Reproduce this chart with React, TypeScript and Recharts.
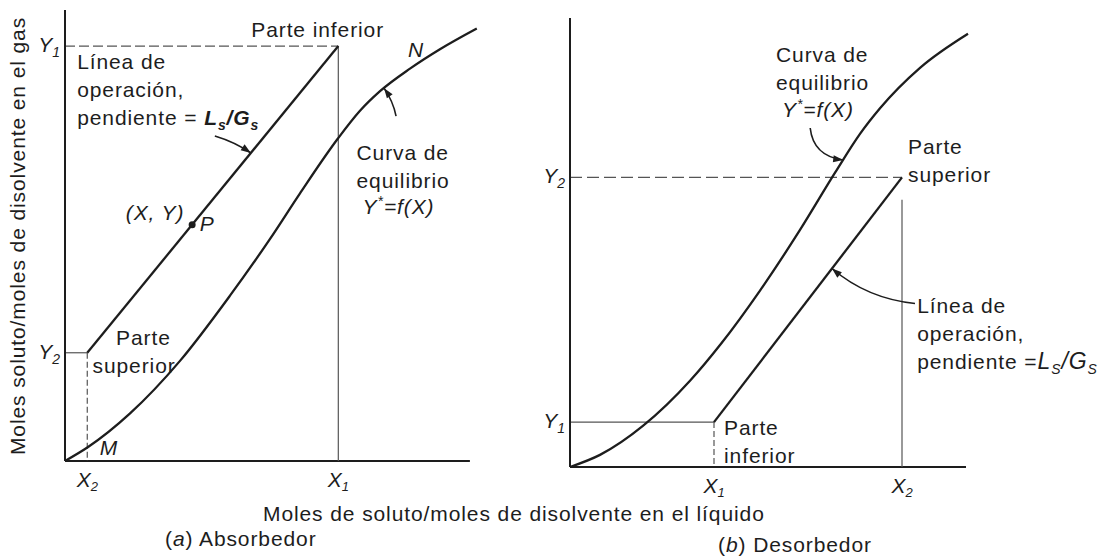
import React from "react";
import { LineChart, Line, XAxis, YAxis, ReferenceLine, ReferenceDot } from "recharts";

const INK = "#1d1d1d";
const GUIDE = "#555555";
const SANS = '"Liberation Sans", Arial, Helvetica, sans-serif';
const SIZE = 21;
const TRACK = 0.9;
const LEAD = 28;

// (a) absorbedor: curva de equilibrio Y* = f(X)
const absEqX = [0, 0.57, 1.6, 2.84, 4.07, 5.06, 5.8, 6.74, 7.28, 7.78, 8.52, 9.26, 10.17];
const absEqY = [0, 0.31, 1.05, 2.22, 3.66, 4.92, 5.93, 7.15, 7.76, 8.2, 8.7, 9.13, 9.59];
// línea de operación: parte superior (X2, Y2) -> parte inferior (X1, Y1)
const absOpX = [0.55, 6.75];
const absOpY = [2.4, 9.2];
const absXNames = [["X", "2"], ["X", "1"]];
const absYNames = [["Y", "2"], ["Y", "1"]];
const absPX = 3.14;

// (b) desorbedor
const desEqX = [0, 0.75, 1.83, 3.0, 3.78, 4.75, 5.75, 6.63, 7.25, 7.75, 8.75, 9.95];
const desEqY = [0, 0.27, 0.92, 1.92, 2.75, 3.93, 5.28, 6.56, 7.42, 7.99, 8.89, 9.65];
// parte inferior (X1, Y1) -> parte superior (X2, Y2)
const desOpX = [3.6, 8.3];
const desOpY = [1.0, 6.45];
const desXNames = [["X", "1"], ["X", "2"]];
const desYNames = [["Y", "1"], ["Y", "2"]];
const desGuideTop = 5.95;

const zip = (xs: number[], ys: number[]) => xs.map((x, i) => ({ x, y: ys[i] }));
const onLine = (xs: number[], ys: number[], x: number) =>
  ys[0] + ((x - xs[0]) * (ys[1] - ys[0])) / (xs[1] - xs[0]);
const onCurve = (xs: number[], ys: number[], x: number) => {
  const i = Math.max(1, xs.findIndex((v) => v >= x));
  return onLine([xs[i - 1], xs[i]], [ys[i - 1], ys[i]], x);
};

const pickName = (values: number[], names: string[][], v: number) => {
  const i = values.findIndex((t) => Math.abs(t - v) < 1e-6);
  return names[i] ?? ["", ""];
};

const XTick = (props: any) => {
  const { x, y, payload, values, names } = props;
  const [l, s] = pickName(values, names, payload.value);
  return (
    <text x={x} y={y + 18} textAnchor="middle" fill={INK} fontFamily={SANS} fontStyle="italic" fontSize={SIZE}>
      {l}
      <tspan dy={4} fontSize={13}>{s}</tspan>
    </text>
  );
};

const YTick = (props: any) => {
  const { x, y, payload, values, names } = props;
  const [l, s] = pickName(values, names, payload.value);
  return (
    <text x={x + 3} y={y + 6} textAnchor="end" fill={INK} fontFamily={SANS} fontStyle="italic" fontSize={SIZE}>
      {l}
      <tspan dy={5} fontSize={14}>{s}</tspan>
    </text>
  );
};

// text block anchored at a data point, one row per entry
const note = (key: string, x: number, y: number, lines: React.ReactNode[], italic = false) => (
  <ReferenceDot
    key={key}
    x={x}
    y={y}
    r={0}
    ifOverflow="visible"
    shape={(p: any) => (
      <text
        fill={INK}
        fontFamily={SANS}
        fontSize={SIZE}
        letterSpacing={TRACK}
        fontStyle={italic ? "italic" : "normal"}
      >
        {lines.map((ln, i) => (
          <tspan key={i} x={p.cx} y={p.cy + i * LEAD}>
            {ln}
          </tspan>
        ))}
      </text>
    )}
  />
);

// curved pointer ending on a curve; start and control are offsets from the tip
const pointer = (key: string, x: number, y: number, sx: number, sy: number, qx: number, qy: number) => (
  <ReferenceDot
    key={key}
    x={x}
    y={y}
    r={0}
    ifOverflow="visible"
    shape={(p: any) => {
      const { cx, cy } = p;
      const len = Math.hypot(qx, qy) || 1;
      const ux = -qx / len;
      const uy = -qy / len;
      const bx = cx - ux * 10;
      const by = cy - uy * 10;
      const nx = -uy * 3.5;
      const ny = ux * 3.5;
      return (
        <g>
          <path d={`M${cx + sx},${cy + sy} Q${cx + qx},${cy + qy} ${cx},${cy}`} fill="none" stroke={INK} strokeWidth={1.6} />
          <path d={`M${cx},${cy} L${bx + nx},${by + ny} L${bx - nx},${by - ny} Z`} fill={INK} />
        </g>
      );
    }}
  />
);

// L_s / G_s with subscripts
const slope = (s: string, big: boolean) => (
  <tspan fontStyle="italic" fontWeight={big ? "normal" : "bold"} fontSize={big ? 23 : SIZE}>
    L
    <tspan dy={5} fontSize={14}>{s}</tspan>
    <tspan dy={-5}>/G</tspan>
    <tspan dy={5} fontSize={14}>{s}</tspan>
  </tspan>
);

const yStar = (
  <tspan fontStyle="italic">
    Y<tspan dy={-8} fontSize={14}>*</tspan>
    <tspan dy={8}>=f(X)</tspan>
  </tspan>
);

const AbsorberPanel = () => {
  const eq = zip(absEqX, absEqY);
  const op = zip(absOpX, absOpY);
  const [x2, x1] = absOpX;
  const [y2, y1] = absOpY;
  const pY = onLine(absOpX, absOpY, absPX);
  const tipX = 4.59;
  const eqTipX = 7.88;
  return (
    <LineChart width={560} height={557} margin={{ top: 10, right: 82, bottom: 66, left: 5 }}>
      <XAxis
        type="number"
        dataKey="x"
        domain={[0, 10.2]}
        ticks={absOpX}
        axisLine={false}
        tickLine={false}
        tick={<XTick values={absOpX} names={absXNames} />}
      />
      <YAxis
        type="number"
        dataKey="y"
        domain={[0, 10]}
        ticks={absOpY}
        width={60}
        tickLine={false}
        axisLine={{ stroke: INK, strokeWidth: 2 }}
        tick={<YTick values={absOpY} names={absYNames} />}
      />
      <ReferenceLine segment={[{ x: 0, y: 0 }, { x: 10, y: 0 }]} stroke={INK} strokeWidth={2} ifOverflow="visible" />
      <ReferenceLine segment={[{ x: 0, y: y1 }, { x: x1, y: y1 }]} stroke={GUIDE} strokeWidth={1.2} strokeDasharray="10 4" />
      <ReferenceLine segment={[{ x: x1, y: y1 }, { x: x1, y: 0 }]} stroke={GUIDE} strokeWidth={1.2} />
      <ReferenceLine segment={[{ x: 0, y: y2 }, { x: x2, y: y2 }]} stroke={GUIDE} strokeWidth={1.2} />
      <ReferenceLine segment={[{ x: x2, y: y2 }, { x: x2, y: 0 }]} stroke={GUIDE} strokeWidth={1.2} strokeDasharray="6 3" />
      <Line data={eq} dataKey="y" type="monotone" stroke={INK} strokeWidth={2.3} dot={false} activeDot={false} isAnimationActive={false} />
      <Line data={op} dataKey="y" type="linear" stroke={INK} strokeWidth={2.3} dot={false} activeDot={false} isAnimationActive={false} />
      <ReferenceDot x={absPX} y={pY} r={3.5} fill={INK} stroke="none" />
      {note("inf", 4.6, 9.4, ["Parte inferior"])}
      {note("op", 0.3, 8.69, ["Línea de", "operación,", <>pendiente = {slope("s", false)}</>])}
      {pointer("opArrow", tipX, onLine(absOpX, absOpY, tipX), -36, -17, -16, -11)}
      {note("eq", 7.2, 6.67, ["Curva de", "equilibrio"])}
      {note("eqf", 7.35, 5.47, [yStar])}
      {pointer("eqArrow", eqTipX, onCurve(absEqX, absEqY, eqTipX), 12, 28, 9, 13)}
      {note("xy", 1.5, 5.34, ["(X, Y)"], true)}
      {note("p", 3.33, 5.1, ["P"], true)}
      {note("sup", 1.26, 2.57, ["Parte"])}
      {note("sup2", 0.68, 1.95, ["superior"])}
      {note("m", 0.86, 0.13, ["M"], true)}
      {note("n", 8.47, 8.96, ["N"], true)}
    </LineChart>
  );
};

const StripperPanel = () => {
  const eq = zip(desEqX, desEqY);
  const op = zip(desOpX, desOpY);
  const [x1, x2] = desOpX;
  const [y1, y2] = desOpY;
  const tipX = 6.55;
  const eqTipX = 6.83;
  return (
    <LineChart width={620} height={557} margin={{ top: 18, right: 146, bottom: 60, left: 10 }}>
      <XAxis
        type="number"
        dataKey="x"
        domain={[0, 10.1]}
        ticks={desOpX}
        axisLine={false}
        tickLine={false}
        tick={<XTick values={desOpX} names={desXNames} />}
      />
      <YAxis
        type="number"
        dataKey="y"
        domain={[0, 10]}
        ticks={desOpY}
        width={60}
        tickLine={false}
        axisLine={{ stroke: INK, strokeWidth: 2 }}
        tick={<YTick values={desOpY} names={desYNames} />}
      />
      <ReferenceLine segment={[{ x: 0, y: 0 }, { x: 9.9, y: 0 }]} stroke={INK} strokeWidth={2} ifOverflow="visible" />
      <ReferenceLine segment={[{ x: 0, y: y2 }, { x: x2, y: y2 }]} stroke={GUIDE} strokeWidth={1.2} strokeDasharray="12 5" />
      <ReferenceLine segment={[{ x: x2, y: desGuideTop }, { x: x2, y: 0 }]} stroke={GUIDE} strokeWidth={1.2} />
      <ReferenceLine segment={[{ x: 0, y: y1 }, { x: x1, y: y1 }]} stroke={GUIDE} strokeWidth={1.2} />
      <ReferenceLine segment={[{ x: x1, y: y1 }, { x: x1, y: 0 }]} stroke={GUIDE} strokeWidth={1.2} strokeDasharray="6 3" />
      <Line data={eq} dataKey="y" type="monotone" stroke={INK} strokeWidth={2.3} dot={false} activeDot={false} isAnimationActive={false} />
      <Line data={op} dataKey="y" type="linear" stroke={INK} strokeWidth={2.3} dot={false} activeDot={false} isAnimationActive={false} />
      {note("eq", 5.15, 9.02, ["Curva de", "equilibrio"])}
      {note("eqf", 5.3, 7.8, [yStar])}
      {pointer("eqArrow", eqTipX, onCurve(desEqX, desEqY, eqTipX), -33, -32, -30, -4)}
      {note("sup", 8.45, 6.97, ["Parte", "superior"])}
      {note("op", 8.68, 3.43, ["Línea de", "operación,", <>pendiente ={slope("S", true)}</>])}
      {pointer("opArrow", tipX, onLine(desOpX, desOpY, tipX), 83, 35, 35, 30)}
      {note("inf", 3.85, 0.71, ["Parte", "inferior"])}
    </LineChart>
  );
};

export default function App() {
  return (
    <div style={{ position: "absolute", left: 0, top: 0, width: 1120, height: 557, background: "#fff", overflow: "hidden" }}>
      <div style={{ position: "absolute", left: 0, top: 0 }}>
        <AbsorberPanel />
      </div>
      <div style={{ position: "absolute", left: 500, top: 0 }}>
        <StripperPanel />
      </div>
      <svg width={1120} height={557} style={{ position: "absolute", left: 0, top: 0, pointerEvents: "none" }}>
        <text x={263} y={521} fill={INK} fontFamily={SANS} fontSize={SIZE} letterSpacing={TRACK}>
          Moles de soluto/moles de disolvente en el líquido
        </text>
        <text
          transform="translate(25,236) rotate(-90)"
          textAnchor="middle"
          fill={INK}
          fontFamily={SANS}
          fontSize={SIZE}
          letterSpacing={TRACK}
        >
          Moles soluto/moles de disolvente en el gas
        </text>
        <text x={165} y={546} fill={INK} fontFamily={SANS} fontSize={SIZE} letterSpacing={TRACK}>
          (<tspan fontStyle="italic">a</tspan>) Absorbedor
        </text>
        <text x={718} y={552} fill={INK} fontFamily={SANS} fontSize={SIZE} letterSpacing={TRACK}>
          (<tspan fontStyle="italic">b</tspan>) Desorbedor
        </text>
      </svg>
    </div>
  );
}
